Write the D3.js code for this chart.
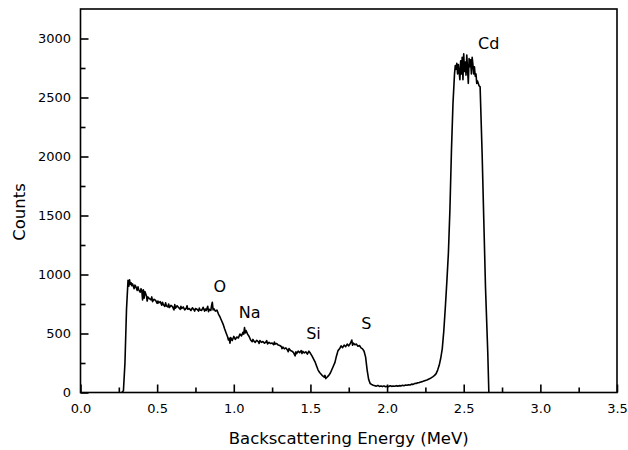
<!DOCTYPE html>
<html>
<head>
<meta charset="utf-8">
<script src="https://d3js.org/d3.v7.min.js"></script>
<style>
  body { margin: 0; background: #fff; }
  text { font-family: "DejaVu Sans", sans-serif; fill: #000; }
</style>
</head>
<body>
<script>
// RBS spectrum: [energy (MeV), counts]
var spectrum = [
  [0.27, 0], [0.28, 15], [0.29, 250], [0.30, 700], [0.31, 950], [0.315, 900], [0.32, 955], [0.325, 915],
  [0.33, 930], [0.335, 905], [0.34, 920], [0.35, 880], [0.355, 910], [0.36, 900], [0.37, 865], [0.375, 895],
  [0.38, 870], [0.39, 850], [0.395, 880], [0.40, 860], [0.405, 785], [0.41, 870], [0.415, 800], [0.42, 855],
  [0.43, 820], [0.435, 775], [0.44, 810], [0.45, 795], [0.46, 785], [0.465, 810], [0.47, 770], [0.48, 790],
  [0.49, 780], [0.50, 755], [0.505, 775], [0.51, 760], [0.52, 770], [0.53, 740], [0.535, 765], [0.54, 745],
  [0.55, 730], [0.555, 760], [0.56, 735], [0.57, 725], [0.575, 750], [0.58, 720], [0.59, 738], [0.60, 728],
  [0.61, 700], [0.615, 745], [0.62, 715], [0.63, 735], [0.64, 720], [0.65, 705], [0.655, 730], [0.66, 712],
  [0.67, 725], [0.68, 700], [0.69, 715], [0.695, 735], [0.70, 705], [0.71, 712], [0.72, 695], [0.73, 718],
  [0.74, 700], [0.745, 690], [0.75, 712], [0.76, 705], [0.77, 690], [0.775, 715], [0.78, 700], [0.79, 695],
  [0.80, 722], [0.81, 690], [0.815, 708], [0.82, 695], [0.83, 730], [0.835, 685], [0.84, 705], [0.85, 695],
  [0.855, 735], [0.86, 765], [0.865, 700], [0.87, 710], [0.88, 690], [0.89, 698], [0.90, 665], [0.91, 640],
  [0.92, 610], [0.93, 580], [0.94, 540], [0.95, 505], [0.96, 470], [0.965, 445], [0.97, 460], [0.975, 418],
  [0.98, 465], [0.99, 440], [1.00, 475], [1.01, 450], [1.02, 470], [1.03, 462], [1.04, 495], [1.05, 480],
  [1.06, 510], [1.065, 495], [1.07, 550], [1.075, 505], [1.08, 525], [1.09, 495], [1.10, 475], [1.11, 445],
  [1.12, 430], [1.125, 450], [1.13, 438], [1.14, 425], [1.15, 442], [1.16, 430], [1.165, 415], [1.17, 440],
  [1.18, 425], [1.19, 432], [1.20, 418], [1.21, 428], [1.215, 440], [1.22, 412], [1.23, 425], [1.24, 415],
  [1.25, 420], [1.26, 405], [1.265, 428], [1.27, 410], [1.28, 415], [1.29, 402], [1.30, 398], [1.31, 390],
  [1.315, 372], [1.32, 385], [1.33, 370], [1.34, 378], [1.35, 360], [1.355, 345], [1.36, 372], [1.37, 355],
  [1.38, 350], [1.39, 338], [1.40, 310], [1.405, 345], [1.41, 330], [1.42, 350], [1.43, 338], [1.44, 355],
  [1.445, 330], [1.45, 348], [1.46, 335], [1.47, 345], [1.48, 325], [1.49, 350], [1.50, 332], [1.51, 310],
  [1.52, 285], [1.53, 260], [1.54, 225], [1.55, 190], [1.56, 170], [1.57, 155], [1.58, 140], [1.59, 130],
  [1.595, 145], [1.60, 118], [1.61, 132], [1.62, 145], [1.63, 165], [1.64, 195], [1.65, 225], [1.66, 255],
  [1.67, 310], [1.68, 355], [1.69, 370], [1.70, 395], [1.71, 380], [1.72, 402], [1.73, 388], [1.74, 410],
  [1.75, 395], [1.76, 415], [1.77, 445], [1.775, 400], [1.78, 418], [1.79, 405], [1.80, 410], [1.81, 392],
  [1.82, 398], [1.83, 378], [1.84, 370], [1.85, 350], [1.86, 300], [1.87, 190], [1.88, 110], [1.89, 75],
  [1.90, 68], [1.91, 62], [1.92, 58], [1.93, 54], [1.94, 60], [1.95, 52], [1.96, 55], [1.97, 50],
  [1.98, 56], [1.99, 49], [2.00, 53], [2.01, 50], [2.02, 57], [2.03, 52], [2.04, 55], [2.05, 53],
  [2.06, 58], [2.07, 54], [2.08, 58], [2.09, 56], [2.10, 61], [2.11, 58], [2.12, 63], [2.13, 61],
  [2.14, 66], [2.15, 64], [2.16, 71], [2.17, 69], [2.18, 76], [2.19, 77], [2.20, 83], [2.21, 84],
  [2.22, 89], [2.23, 92], [2.24, 98], [2.26, 106], [2.28, 118], [2.30, 135], [2.31, 145], [2.32, 160],
  [2.33, 190], [2.34, 230], [2.35, 290], [2.36, 370], [2.37, 520], [2.38, 720], [2.39, 940], [2.40, 1180],
  [2.41, 1550], [2.42, 2050], [2.43, 2450], [2.44, 2700], [2.445, 2770], [2.45, 2740], [2.455, 2790], [2.46, 2700],
  [2.465, 2780], [2.47, 2720], [2.475, 2650], [2.48, 2810], [2.485, 2700], [2.49, 2840], [2.495, 2650], [2.50, 2870],
  [2.505, 2720], [2.51, 2800], [2.515, 2690], [2.52, 2860], [2.525, 2740], [2.53, 2620], [2.535, 2830], [2.54, 2760],
  [2.545, 2820], [2.55, 2700], [2.555, 2840], [2.56, 2780], [2.565, 2700], [2.57, 2760], [2.575, 2680], [2.58, 2700],
  [2.585, 2620], [2.59, 2640], [2.60, 2600], [2.607, 2590], [2.62, 2030], [2.631, 1460], [2.642, 895], [2.657, 335],
  [2.664, 0]
];

var xTicks = [0, 0.5, 1.0, 1.5, 2.0, 2.5, 3.0, 3.5];
var xMinorTicks = [0.25, 0.75, 1.25, 1.75, 2.25, 2.75, 3.25];
var yTicks = [0, 500, 1000, 1500, 2000, 2500, 3000];
var yMinorTicks = [250, 750, 1250, 1750, 2250, 2750];

// element labels, placed at [energy, counts]
var peakLabels = [
  {name: "O",  e: 0.908, c: 849},
  {name: "Na", e: 1.104, c: 629},
  {name: "Si", e: 1.520, c: 453},
  {name: "S",  e: 1.864, c: 538},
  {name: "Cd", e: 2.663, c: 2911}
];

// set the dimensions and margins of the graph
var margin = {top: 9, right: 11, bottom: 57.5, left: 80.5},
    width = 628 - margin.left - margin.right,
    height = 450 - margin.top - margin.bottom;

var x = d3.scaleLinear().domain([0, 3.5]).range([0, width]);
var y = d3.scaleLinear().domain([0, 3250]).range([height, 0]);

var svg = d3.select("body").append("svg")
    .attr("width", 628)
    .attr("height", 450)
  .append("g")
    .attr("transform", "translate(" + margin.left + "," + margin.top + ")");

// the spectrum
var line = d3.line()
    .x(function(d) { return x(d[0]); })
    .y(function(d) { return y(d[1]); });

svg.append("path")
    .datum(spectrum)
    .attr("fill", "none")
    .attr("stroke", "#000")
    .attr("stroke-width", 1.6)
    .attr("stroke-linejoin", "round")
    .attr("d", line);

// x axis, ticks pointing inward
svg.append("g")
    .attr("transform", "translate(0," + height + ")")
    .call(d3.axisBottom(x).tickValues(xTicks).tickSize(-8).tickSizeOuter(0)
      .tickPadding(11).tickFormat(d3.format(".1f")));
svg.append("g")
    .attr("transform", "translate(0," + height + ")")
    .call(d3.axisBottom(x).tickValues(xMinorTicks).tickSize(-5).tickSizeOuter(0).tickFormat(""));

// y axis
svg.append("g")
    .call(d3.axisLeft(y).tickValues(yTicks).tickSize(-8).tickSizeOuter(0)
      .tickPadding(9.5).tickFormat(d3.format("d")));
svg.append("g")
    .call(d3.axisLeft(y).tickValues(yMinorTicks).tickSize(-5).tickSizeOuter(0).tickFormat(""));

svg.selectAll(".domain").remove();
svg.selectAll(".tick line").attr("stroke", "#000").attr("stroke-width", 1.6);
svg.selectAll(".tick text")
    .style("font-family", "DejaVu Sans, sans-serif")
    .style("font-size", "13px")
    .attr("fill", "#000");

// frame
svg.append("rect")
    .attr("width", width)
    .attr("height", height)
    .attr("fill", "none")
    .attr("stroke", "#000")
    .attr("stroke-width", 1.6);

// axis titles
svg.append("text")
    .attr("x", width / 2)
    .attr("y", height + 51)
    .attr("text-anchor", "middle")
    .style("font-size", "16.5px")
    .text("Backscattering Energy (MeV)");

svg.append("text")
    .attr("transform", "rotate(-90)")
    .attr("x", -(212 - margin.top))
    .attr("y", -55.5)
    .attr("text-anchor", "middle")
    .style("font-size", "16.5px")
    .text("Counts");

// peak labels
svg.selectAll(".peak")
    .data(peakLabels)
  .enter().append("text")
    .attr("class", "peak")
    .attr("x", function(d) { return x(d.e); })
    .attr("y", function(d) { return y(d.c); })
    .attr("text-anchor", "middle")
    .style("font-size", "16px")
    .text(function(d) { return d.name; });
</script>
</body>
</html>
